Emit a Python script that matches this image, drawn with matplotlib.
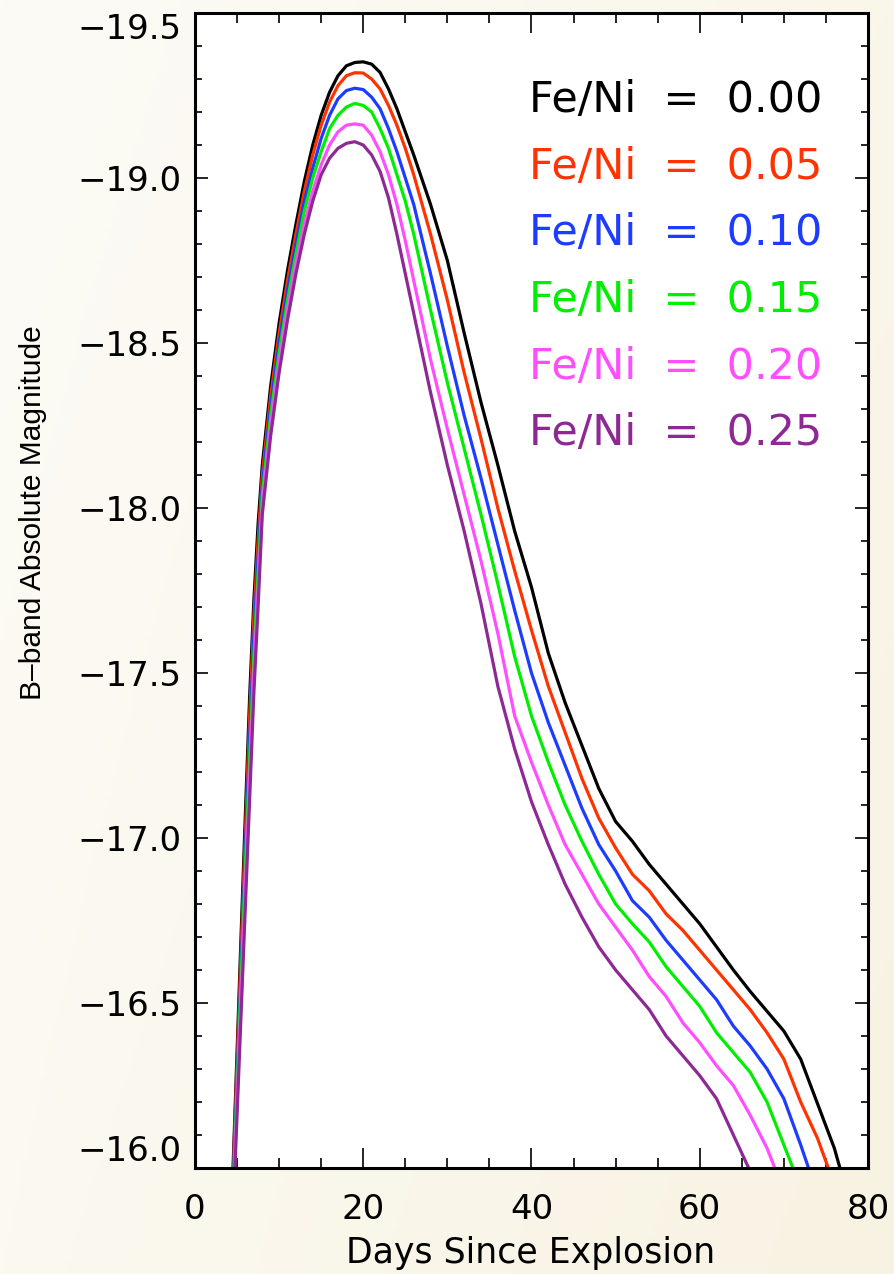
import numpy as np
import matplotlib
matplotlib.use('Agg')
import matplotlib.pyplot as plt
from matplotlib.ticker import MultipleLocator

# days since explosion (shared grid for every model)
days = [4.4, 5, 5.5, 6, 6.5, 7, 7.5, 8,
        9, 10, 11, 12, 13, 14, 15, 16, 17, 18, 19, 20, 21, 22, 23, 24, 25, 26,
        28, 30, 32, 34, 36, 38, 40, 42, 44, 46, 48, 50, 52, 54, 56, 58, 60,
        62, 64, 66, 68, 70, 72, 74, 76, 78]

# B-band absolute magnitude for each Fe/Ni ratio
mag_000 = [-15.91, -16.35, -16.72, -17.08, -17.43, -17.72, -17.95, -18.13,
           -18.37, -18.56, -18.72, -18.86, -18.99, -19.10, -19.19, -19.26, -19.31, -19.34, -19.35, -19.352,
           -19.345, -19.32, -19.27, -19.21, -19.14, -19.07,
           -18.92, -18.75, -18.53, -18.32, -18.13, -17.93, -17.76, -17.56, -17.41, -17.28, -17.15, -17.05,
           -16.99, -16.92, -16.86, -16.80, -16.74, -16.67, -16.60, -16.535, -16.475, -16.415, -16.33,
           -16.195, -16.06, -15.88]
mag_005 = [-15.88, -16.31, -16.67, -17.02, -17.37, -17.67, -17.90, -18.10,
           -18.34, -18.53, -18.69, -18.83, -18.96, -19.07, -19.16, -19.23, -19.28, -19.31, -19.319, -19.318,
           -19.30, -19.27, -19.22, -19.16, -19.09, -19.01,
           -18.83, -18.63, -18.41, -18.21, -18.00, -17.81, -17.63, -17.46, -17.32, -17.18, -17.06, -16.97,
           -16.89, -16.84, -16.77, -16.72, -16.66, -16.60, -16.54, -16.48, -16.41, -16.33, -16.20,
           -16.09, -15.95, -15.80]
mag_010 = [-15.86, -16.27, -16.62, -16.97, -17.30, -17.61, -17.85, -18.07,
           -18.31, -18.50, -18.66, -18.80, -18.93, -19.03, -19.12, -19.19, -19.24, -19.265, -19.272, -19.268,
           -19.245, -19.21, -19.15, -19.08, -19.00, -18.92,
           -18.71, -18.49, -18.28, -18.09, -17.89, -17.69, -17.50, -17.35, -17.22, -17.09, -16.98, -16.90,
           -16.81, -16.76, -16.69, -16.63, -16.57, -16.51, -16.43, -16.37, -16.30, -16.21, -16.07,
           -15.92, -15.78, -15.65]
mag_015 = [-15.83, -16.24, -16.58, -16.92, -17.24, -17.55, -17.80, -18.04,
           -18.28, -18.47, -18.63, -18.77, -18.90, -19.00, -19.08, -19.15, -19.19, -19.215, -19.226, -19.22,
           -19.20, -19.15, -19.09, -19.01, -18.93, -18.83,
           -18.60, -18.38, -18.18, -17.98, -17.77, -17.55, -17.37, -17.23, -17.10, -16.99, -16.89, -16.80,
           -16.74, -16.685, -16.61, -16.55, -16.49, -16.41, -16.35, -16.29, -16.20, -16.07, -15.94,
           -15.80, -15.66, -15.52]
mag_020 = [-15.81, -16.20, -16.53, -16.86, -17.18, -17.50, -17.75, -18.01,
           -18.25, -18.44, -18.60, -18.74, -18.86, -18.96, -19.04, -19.10, -19.14, -19.16, -19.164, -19.16,
           -19.13, -19.08, -19.01, -18.92, -18.81, -18.69,
           -18.45, -18.24, -18.04, -17.84, -17.62, -17.37, -17.23, -17.10, -16.98, -16.89, -16.80, -16.73,
           -16.66, -16.58, -16.52, -16.44, -16.38, -16.31, -16.25, -16.16, -16.06, -15.93, -15.80,
           -15.67, -15.54, -15.41]
mag_025 = [-15.78, -16.16, -16.48, -16.80, -17.12, -17.44, -17.70, -17.98,
           -18.22, -18.41, -18.57, -18.71, -18.83, -18.93, -19.01, -19.06, -19.09, -19.105, -19.11, -19.10,
           -19.07, -19.02, -18.94, -18.83, -18.71, -18.59,
           -18.35, -18.13, -17.93, -17.71, -17.46, -17.27, -17.11, -16.98, -16.86, -16.76, -16.67, -16.60,
           -16.54, -16.48, -16.40, -16.34, -16.28, -16.21, -16.10, -15.99, -15.86, -15.73, -15.60,
           -15.47, -15.34, -15.21]

ratios = ['0.00', '0.05', '0.10', '0.15', '0.20', '0.25']
colors = ['#000000', '#ff3300', '#1e3cff', '#00ee00', '#ff4dff', '#8e2894']
curves = [mag_000, mag_005, mag_010, mag_015, mag_020, mag_025]

day_ticks = [0, 20, 40, 60, 80]
mag_ticks = [-19.5, -19.0, -18.5, -18.0, -17.5, -17.0, -16.5, -16.0]

fig = plt.figure(figsize=(8.94, 12.74), dpi=100)

# cream background gradient behind everything
bg = fig.add_axes([0, 0, 1, 1], zorder=-10)
gx, gy = np.meshgrid(np.linspace(0, 1, 200), np.linspace(0, 1, 200))
c_tl = np.array([252, 251, 246]) / 255
c_tr = np.array([250, 246, 234]) / 255
c_bl = np.array([251, 249, 240]) / 255
c_br = np.array([248, 242, 226]) / 255
grad = (c_tl * ((1 - gx) * (1 - gy))[..., None] + c_tr * (gx * (1 - gy))[..., None]
        + c_bl * ((1 - gx) * gy)[..., None] + c_br * (gx * gy)[..., None])
bg.imshow(grad, aspect='auto', extent=[0, 1, 0, 1])
bg.axis('off')

ax = fig.add_axes([0.2181, 0.0832, 0.7528, 0.9066])
ax.set_facecolor('white')

for mags, col in zip(curves, colors):
    ax.plot(days, mags, color=col, lw=2.3, solid_joinstyle='round')

ax.set_xlim(0, 80)
ax.set_ylim(-16.0, -19.5)
ax.set_xticks(day_ticks, labels=[str(d) for d in day_ticks])
ax.set_yticks(mag_ticks, labels=[f'{m:.1f}'.replace('-', '\u2212') for m in mag_ticks])
ax.xaxis.set_minor_locator(MultipleLocator(5))
ax.yaxis.set_minor_locator(MultipleLocator(0.1))

ax.tick_params(which='both', direction='in', top=True, right=True,
               labelsize=24.5, width=1.2, color='black')
ax.tick_params(axis='x', which='major', length=14.4, pad=18)
ax.tick_params(axis='x', which='minor', length=7.2)
ax.tick_params(axis='y', which='major', length=9.4, pad=9.4)
ax.tick_params(axis='y', which='minor', length=5)
for sp in ax.spines.values():
    sp.set_linewidth(2.2)

# end labels sit inside the axis range, as in the original
ylabs = ax.get_yticklabels()
ylabs[0].set_va('top')
ylabs[-1].set_va('bottom')

for i, (r, col) in enumerate(zip(ratios, colors)):
    ax.text(0.496, 0.9143 - i * 0.0577, f'Fe/Ni  =  {r}', color=col,
            fontsize=31, transform=ax.transAxes, ha='left', va='baseline')

fig.text(0.594, 0.0086, 'Days Since Explosion', fontsize=25,
         ha='center', va='baseline')
fig.text(0.046, 0.598, 'B\u2013band Absolute Magnitude', fontsize=21.5,
         family=['Liberation Sans', 'DejaVu Sans'],
         rotation=90, rotation_mode='anchor', ha='center', va='baseline')

fig.savefig('out.png', dpi=100)
